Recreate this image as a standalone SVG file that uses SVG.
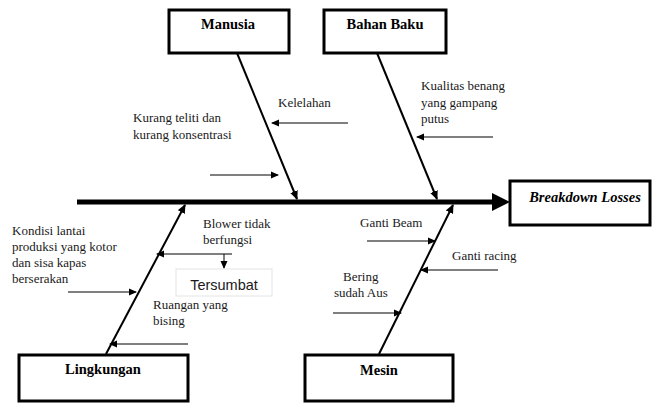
<svg xmlns="http://www.w3.org/2000/svg" width="652" height="403" viewBox="0 0 652 403">
<defs>
<marker id="ah" markerWidth="8" markerHeight="8" refX="7" refY="4" orient="auto" markerUnits="userSpaceOnUse"><path d="M0,0.5 L8,4 L0,7.5 Z" fill="#000"/></marker>
<marker id="ahb" markerWidth="9" markerHeight="9" refX="8" refY="4.5" orient="auto" markerUnits="userSpaceOnUse"><path d="M0,0.5 L9,4.5 L0,8.5 Z" fill="#000"/></marker>
<style>
.box{fill:#fff;stroke:#000;stroke-width:3}
.title{font-family:"Liberation Serif",serif;font-weight:bold;font-size:14.5px;text-anchor:middle;fill:#000}
.t{font-family:"Liberation Serif",serif;font-size:13px;fill:#1a1a1a}
.bone{stroke:#000;stroke-width:2;fill:none}
.sub{stroke:#000;stroke-width:1;fill:none}
</style>
</defs>
<rect width="652" height="403" fill="#fff"/>
<g id="connectors">
<line x1="77" y1="202" x2="494" y2="202" stroke="#000" stroke-width="5"/>
<path d="M492,193 L510,202 L492,211 Z" fill="#000"/>
<line class="bone" x1="237" y1="53" x2="297" y2="199" marker-end="url(#ahb)"/>
<line class="bone" x1="377" y1="53" x2="437" y2="199" marker-end="url(#ahb)"/>
<line class="bone" x1="106" y1="354" x2="185" y2="205" marker-end="url(#ahb)"/>
<line class="bone" x1="379" y1="354" x2="453" y2="205" marker-end="url(#ahb)"/>
<line class="sub" x1="348" y1="123" x2="272" y2="123" marker-end="url(#ah)"/>
<line class="sub" x1="210" y1="175" x2="278" y2="175" marker-end="url(#ah)"/>
<line class="sub" x1="493" y1="137" x2="417" y2="137" marker-end="url(#ah)"/>
<line class="sub" x1="232" y1="254" x2="157" y2="254" marker-end="url(#ah)"/>
<line class="sub" x1="224" y1="254" x2="224" y2="268" marker-end="url(#ah)"/>
<line class="sub" x1="68" y1="292" x2="136" y2="292" marker-end="url(#ah)"/>
<line class="sub" x1="188" y1="344" x2="110" y2="344" marker-end="url(#ah)"/>
<line class="sub" x1="367" y1="241" x2="435" y2="241" marker-end="url(#ah)"/>
<line class="sub" x1="498" y1="270" x2="421" y2="270" marker-end="url(#ah)"/>
<line class="sub" x1="333" y1="313" x2="401" y2="313" marker-end="url(#ah)"/>
</g>
<g id="manusia"><rect class="box" x="169" y="10" width="120" height="43"/><text class="title" x="228" y="29">Manusia</text></g>
<g id="bahan-baku"><rect class="box" x="324" y="10" width="122" height="43"/><text class="title" x="385" y="29">Bahan Baku</text></g>
<g id="effect"><rect class="box" x="510" y="181" width="140" height="44"/><text class="title" x="585" y="202" font-style="italic" font-size="14">Breakdown Losses</text></g>
<g id="lingkungan"><rect class="box" x="19" y="355" width="169" height="46"/><text class="title" x="103" y="374">Lingkungan</text></g>
<g id="mesin"><rect class="box" x="305" y="355" width="148" height="46"/><text class="title" x="379" y="375">Mesin</text></g>
<g id="tersumbat"><rect x="176" y="269" width="96" height="27" fill="#fff" stroke="#e4e4e4" stroke-width="1"/><text x="224" y="290" font-family="'Liberation Sans',sans-serif" font-size="14.5" text-anchor="middle" fill="#1a1a1a">Tersumbat</text></g>
<g id="labels">
<text class="t" x="278" y="107">Kelelahan</text>
<text class="t" x="133" y="122">Kurang teliti dan</text>
<text class="t" x="133" y="139">kurang konsentrasi</text>
<text class="t" x="421" y="90">Kualitas benang</text>
<text class="t" x="421" y="107">yang gampang</text>
<text class="t" x="421" y="123">putus</text>
<text class="t" x="203" y="228">Blower tidak</text>
<text class="t" x="203" y="244">berfungsi</text>
<text class="t" x="12" y="235">Kondisi lantai</text>
<text class="t" x="12" y="251">produksi yang kotor</text>
<text class="t" x="12" y="267">dan sisa kapas</text>
<text class="t" x="12" y="283">berserakan</text>
<text class="t" x="153" y="309">Ruangan yang</text>
<text class="t" x="153" y="325">bising</text>
<text class="t" x="360" y="227">Ganti Beam</text>
<text class="t" x="452" y="260">Ganti racing</text>
<text class="t" x="343" y="281">Bering</text>
<text class="t" x="334" y="297">sudah Aus</text>
</g>
</svg>
